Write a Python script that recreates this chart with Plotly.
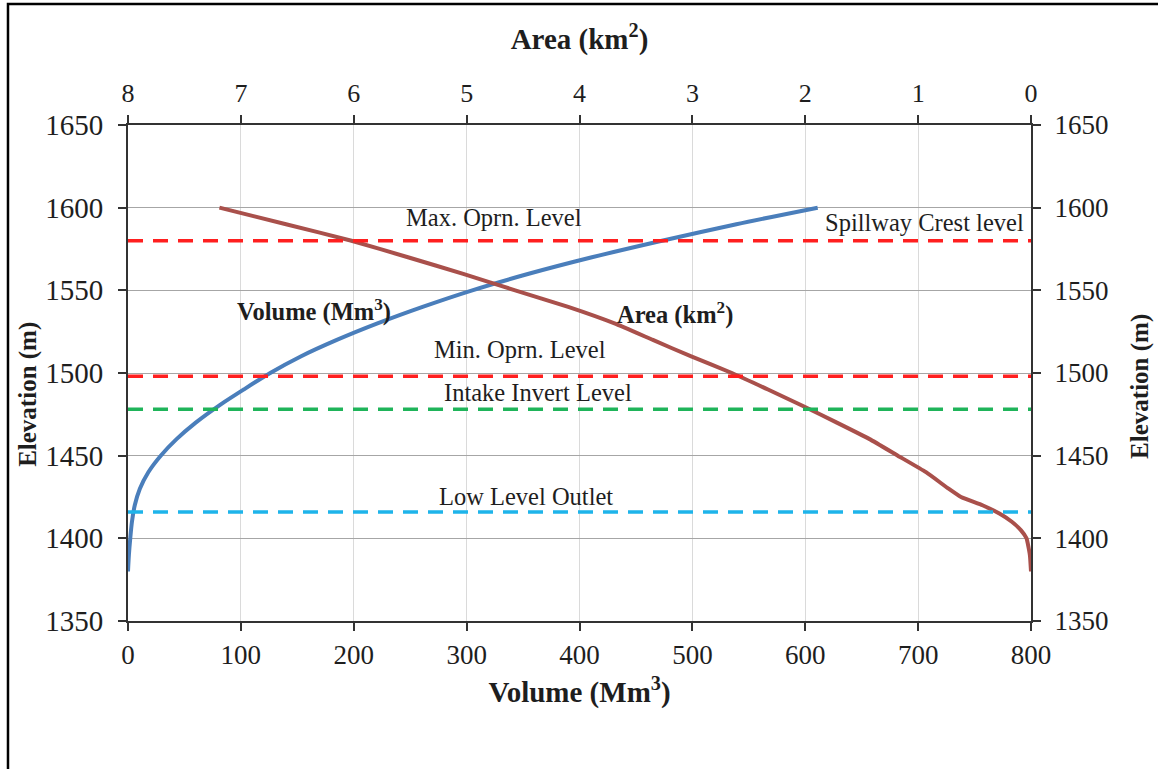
import plotly.graph_objects as go

# Reservoir elevation–volume–area relationship
elev_volume = [1380, 1390, 1400, 1410, 1420, 1430, 1440, 1450, 1460, 1470, 1480,
               1490, 1500, 1510, 1520, 1530, 1540, 1550, 1560, 1570, 1580, 1590, 1600]
volume_mm3 = [0, 0.8, 2, 3.5, 6, 10.5, 18, 29, 43, 60, 80,
              102.5, 126, 153, 185, 221, 261, 305, 355, 411, 473, 539, 611]

elev_area = [1380, 1390, 1400, 1405, 1410, 1415, 1420, 1425, 1430, 1440, 1450,
             1460, 1470, 1480, 1490, 1500, 1510, 1520, 1530, 1540, 1550,
             1560, 1570, 1580, 1590, 1600]
area_km2 = [0, 0.01, 0.04, 0.09, 0.17, 0.28, 0.43, 0.62, 0.73, 0.93, 1.18,
            1.43, 1.72, 2.02, 2.33, 2.65, 3.01, 3.35, 3.69, 4.10, 4.57,
            5.03, 5.52, 6.02, 6.60, 7.19]

# Operating levels (m)
level_names = ["Max. Oprn. Level", "Min. Oprn. Level", "Intake Invert Level", "Low Level Outlet"]
level_values = [1580, 1498, 1478, 1416]
level_colors = ["#ff1f1f", "#ff1f1f", "#1fb45a", "#1eb4ea"]
spillway_crest = 1580

volume_ticks = [0, 100, 200, 300, 400, 500, 600, 700, 800]
area_ticks = [0, 1, 2, 3, 4, 5, 6, 7, 8]
elev_ticks = [1350, 1400, 1450, 1500, 1550, 1600, 1650]

SERIF = "Liberation Serif, Times New Roman, serif"
AXIS_COLOR = "#333333"
TEXT_COLOR = "#1e1e1e"

fig = go.Figure()

fig.add_trace(go.Scatter(
    x=volume_mm3, y=elev_volume, mode="lines", name="Volume",
    line=dict(color="#4a7ebb", width=4, shape="spline", smoothing=0.8),
    xaxis="x", yaxis="y", showlegend=False,
))
fig.add_trace(go.Scatter(
    x=area_km2, y=elev_area, mode="lines", name="Area",
    line=dict(color="#a9504b", width=4, shape="spline", smoothing=0.4),
    xaxis="x2", yaxis="y", showlegend=False,
))
# invisible trace to carry the right-hand elevation axis
fig.add_trace(go.Scatter(
    x=[volume_ticks[0], volume_ticks[-1]], y=[elev_ticks[0], elev_ticks[-1]],
    mode="markers", marker=dict(opacity=0), hoverinfo="skip",
    xaxis="x", yaxis="y2", showlegend=False,
))

# dashed reference levels across the full width
for val, col in zip(level_values, level_colors):
    fig.add_shape(type="line", xref="paper", yref="y", x0=0, x1=1, y0=val, y1=val,
                  line=dict(color=col, width=3.5, dash="15px,10px"), layer="above")

label_font = dict(family=SERIF, size=24.5, color=TEXT_COLOR)
bold_font = dict(family=SERIF, size=24.5, color=TEXT_COLOR)

# level labels (x in volume units, y in metres)
label_pos = [(324, 1594), (347, 1514), (363, 1488.5), (353, 1425.5)]
for name, (lx, ly) in zip(level_names, label_pos):
    fig.add_annotation(x=lx, y=ly, xref="x", yref="y", text=name, showarrow=False,
                       font=label_font, xanchor="center", yanchor="middle")
fig.add_annotation(x=706, y=spillway_crest + 11, xref="x", yref="y",
                   text="Spillway Crest level", showarrow=False,
                   font=label_font, xanchor="center", yanchor="middle")

# curve labels
fig.add_annotation(x=165, y=1538, xref="x", yref="y", text="<b>Volume (Mm<sup>3</sup>)</b>",
                   showarrow=False, font=bold_font)
fig.add_annotation(x=485, y=1536, xref="x", yref="y", text="<b>Area (km<sup>2</sup>)</b>",
                   showarrow=False, font=bold_font)

# elevation axis titles
fig.add_annotation(x=-0.1107, y=0.456, xref="paper", yref="paper",
                   xanchor="center", yanchor="middle",
                   text="<b>Elevation (m)</b>", textangle=-90, showarrow=False,
                   font=dict(family=SERIF, size=25, color=TEXT_COLOR))
fig.add_annotation(x=1.1207, y=0.474, xref="paper", yref="paper",
                   xanchor="center", yanchor="middle",
                   text="<b>Elevation (m)</b>", textangle=-90, showarrow=False,
                   font=dict(family=SERIF, size=25, color=TEXT_COLOR))

# outer frame (left and top edges)
fig.add_shape(type="path", xref="paper", yref="paper",
              path="M -0.1329 -0.30 L -0.1329 1.244 L 1.2 1.244",
              line=dict(color="black", width=2.5), layer="above")

common = dict(showline=True, linecolor=AXIS_COLOR, linewidth=2,
              ticks="outside", ticklen=8, tickwidth=2, tickcolor=AXIS_COLOR,
              zeroline=False)

fig.update_layout(
    width=1158, height=769,
    margin=dict(l=128, r=127, t=125, b=148),
    paper_bgcolor="white", plot_bgcolor="white",
    xaxis=dict(
        range=[volume_ticks[0], volume_ticks[-1]], tickvals=volume_ticks,
        showgrid=True, gridcolor="#dadada", gridwidth=1,
        tickfont=dict(family=SERIF, size=27, color=TEXT_COLOR), ticklabelstandoff=1,
        title=dict(text="<b>Volume (Mm<sup>3</sup>)</b>",
                   font=dict(family=SERIF, size=29, color=TEXT_COLOR), standoff=12),
        **common,
    ),
    xaxis2=dict(
        range=[area_ticks[-1], area_ticks[0]], tickvals=area_ticks,
        overlaying="x", side="top", showgrid=False,
        tickfont=dict(family=SERIF, size=26, color=TEXT_COLOR), ticklabelstandoff=3,
        title=dict(text="<b>Area (km<sup>2</sup>)</b>",
                   font=dict(family=SERIF, size=29, color=TEXT_COLOR), standoff=20),
        **common,
    ),
    yaxis=dict(
        range=[elev_ticks[0], elev_ticks[-1]], tickvals=elev_ticks,
        showgrid=True, gridcolor="#a6a6a6", gridwidth=1,
        tickfont=dict(family=SERIF, size=29, color=TEXT_COLOR), ticklabelstandoff=9,
        **common,
    ),
    yaxis2=dict(
        range=[elev_ticks[0], elev_ticks[-1]], tickvals=elev_ticks,
        overlaying="y", side="right", showgrid=False,
        tickfont=dict(family=SERIF, size=27, color=TEXT_COLOR), ticklabelstandoff=8,
        **common,
    ),
)

fig.write_html("out.html")
